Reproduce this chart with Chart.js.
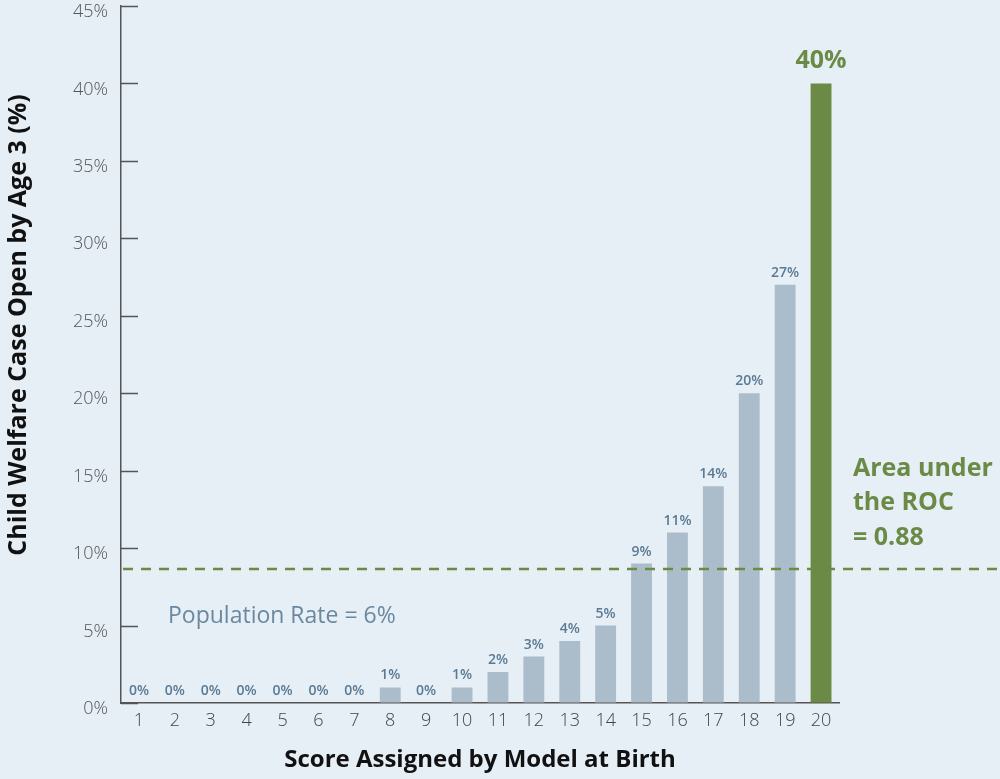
<!DOCTYPE html>
<html>
<head>
<meta charset="utf-8">
<script src="https://cdn.jsdelivr.net/npm/chart.js@4"></script>
<style>
  html, body { margin: 0; padding: 0; background: #e6eef6; }
  #wrap { width: 1000px; height: 779px; }
</style>
</head>
<body>
<div id="wrap"><canvas id="chart" width="1000" height="779"></canvas></div>
<script>
// Data
const scores = ['1','2','3','4','5','6','7','8','9','10','11','12','13','14','15','16','17','18','19','20'];
const rates = [0, 0, 0, 0, 0, 0, 0, 1, 0, 1, 2, 3, 4, 5, 9, 11, 14, 20, 27, 40];
const yTicks = [0, 5, 10, 15, 20, 25, 30, 35, 40, 45];
const dashValue = 8.65;

const GREY = '#abbccb';
const GREEN = '#6a8a45';
const LABEL_BLUE = '#5b7a93';
const FONT = "'Open Sans', sans-serif";

const barColors = rates.map((v, i) => i === rates.length - 1 ? GREEN : GREY);

// draws inward ticks, the dashed line, value labels and notes
const extras = {
  id: 'extras',
  afterDatasetsDraw(chart) {
    const ctx = chart.ctx;
    const x = chart.scales.x, y = chart.scales.y;
    const area = chart.chartArea;

    // inward y ticks
    ctx.save();
    ctx.strokeStyle = '#555';
    ctx.lineWidth = 1.5;
    yTicks.forEach(t => {
      const py = Math.round(y.getPixelForValue(t)) + 0.5;
      ctx.beginPath();
      ctx.moveTo(area.left, py);
      ctx.lineTo(area.left + 17, py);
      ctx.stroke();
    });
    ctx.restore();

    // population dashed line
    ctx.save();
    const dy = y.getPixelForValue(dashValue);
    ctx.strokeStyle = GREEN;
    ctx.lineWidth = 2.5;
    ctx.setLineDash([10, 8]);
    ctx.beginPath();
    ctx.moveTo(area.left + 2, dy);
    ctx.lineTo(chart.width, dy);
    ctx.stroke();
    ctx.restore();

    // value labels above bars
    const meta = chart.getDatasetMeta(0);
    ctx.save();
    ctx.textAlign = 'center';
    ctx.textBaseline = 'bottom';
    meta.data.forEach((bar, i) => {
      const last = i === rates.length - 1;
      if (last) {
        ctx.fillStyle = GREEN;
        ctx.font = "bold 25px " + FONT;
        ctx.fillText(rates[i] + '%', bar.x, bar.y - 10);
      } else {
        ctx.fillStyle = LABEL_BLUE;
        ctx.font = "600 14px " + FONT;
        ctx.fillText(rates[i] + '%', bar.x, bar.y - 5);
      }
    });
    ctx.restore();

    // notes
    ctx.save();
    ctx.textAlign = 'left';
    ctx.textBaseline = 'middle';
    ctx.fillStyle = '#6a89a0';
    ctx.font = "23px " + FONT;
    ctx.fillText('Population Rate = 6%', 168, 616);
    ctx.fillStyle = GREEN;
    ctx.font = "bold 25px " + FONT;
    ctx.fillText('Area under', 853, 469);
    ctx.fillText('the ROC', 853, 503);
    ctx.fillText('= 0.88', 853, 538);
    ctx.restore();

    // y axis title
    ctx.save();
    ctx.translate(19, 325);
    ctx.rotate(-Math.PI / 2);
    ctx.textAlign = 'center';
    ctx.textBaseline = 'middle';
    ctx.fillStyle = '#111';
    ctx.font = "bold 25px " + FONT;
    ctx.fillText('Child Welfare Case Open by Age 3 (%)', 0, 0);
    ctx.restore();
  }
};

new Chart(document.getElementById('chart'), {
  type: 'bar',
  data: {
    labels: scores,
    datasets: [{
      data: rates,
      backgroundColor: barColors,
      borderWidth: 0,
      barPercentage: 0.7,
      categoryPercentage: 0.83
    }]
  },
  options: {
    responsive: false,
    animation: false,
    layout: { padding: { top: 6, right: 161, left: 0, bottom: 0 } },
    plugins: {
      legend: { display: false },
      tooltip: { enabled: false }
    },
    scales: {
      x: {
        grid: { drawOnChartArea: false, drawTicks: false },
        border: { display: true, color: '#555', width: 1.5 },
        ticks: { color: '#444', font: { family: FONT, size: 18, weight: '300' }, padding: 7 },
        title: {
          display: true,
          text: 'Score Assigned by Model at Birth',
          color: '#111',
          font: { family: FONT, size: 24, weight: 'bold' },
          padding: { top: 8 }
        },
        afterFit(scale) { scale.height = 76; scale.paddingLeft = 0; scale.paddingRight = 0; }
      },
      y: {
        min: 0,
        max: 45,
        grid: { drawOnChartArea: false, drawTicks: false },
        border: { display: true, color: '#555', width: 1.5 },
        ticks: {
          stepSize: 5,
          padding: 13,
          labelOffset: 6,
          color: '#555',
          font: { family: FONT, size: 18, weight: '300' },
          callback: v => v + '%'
        },
        afterFit(scale) { scale.width = 121; scale.paddingTop = 0; scale.paddingBottom = 0; }
      }
    }
  },
  plugins: [extras]
});
</script>
</body>
</html>
